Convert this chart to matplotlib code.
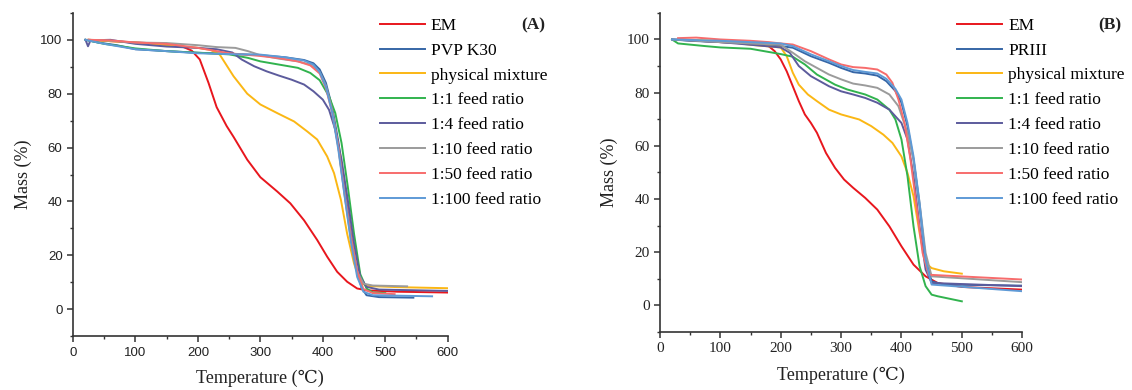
import matplotlib
matplotlib.use("Agg")
import matplotlib.pyplot as plt
from matplotlib.ticker import MultipleLocator
import numpy as np

# TGA curves, temperature (C) vs remaining mass (%)
labels_a = ["EM", "PVP K30", "physical mixture", "1:1 feed ratio", "1:4 feed ratio",
            "1:10 feed ratio", "1:50 feed ratio", "1:100 feed ratio"]
labels_b = ["EM", "PRIII", "physical mixture", "1:1 feed ratio", "1:4 feed ratio",
            "1:10 feed ratio", "1:50 feed ratio", "1:100 feed ratio"]
colors = ["#e8161d", "#3666a6", "#fbb714", "#31b34e", "#5c5b9c",
          "#9b9b9b", "#f76c6c", "#5e9ad6"]

# ---- panel A: PVP K30 ----
a_em_t = [25, 60, 100, 150, 175, 190, 203, 217, 230, 246, 257, 279, 300, 327, 348, 370, 391, 407, 423, 439, 455, 471, 520, 600]
a_em_m = [100, 99.5, 99, 98.5, 97.5, 96, 92.7, 84, 75, 68, 64, 55.5, 49, 43.7, 39.3, 33, 25.7, 19.5, 13.9, 10.2, 7.7, 7, 6.5, 6.2]

a_pvp_t = [20, 40, 70, 100, 150, 200, 250, 300, 340, 370, 385, 395, 405, 415, 425, 435, 445, 455, 462, 470, 490, 545]
a_pvp_m = [100, 99, 98, 96.5, 95.8, 95.2, 94.8, 94.3, 93.5, 92.5, 91.3, 89, 84, 75, 62, 45, 28, 14, 8, 5.2, 4.5, 4.3]

a_pm_t = [25, 60, 100, 150, 200, 220, 235, 257, 279, 300, 327, 354, 375, 391, 407, 418, 429, 439, 450, 461, 475, 520, 600]
a_pm_m = [100, 99.5, 99, 98, 97, 96.3, 94.5, 86.5, 80, 76, 72.8, 69.7, 66, 63, 56.7, 50.5, 40.6, 28, 17, 9.6, 8.6, 8.2, 7.8]

a_r1_t = [20, 50, 80, 100, 150, 200, 250, 280, 300, 330, 360, 380, 395, 410, 420, 430, 440, 450, 460, 470, 480, 500]
a_r1_m = [100, 98.5, 97.5, 96.8, 95.8, 95.2, 94.6, 93.3, 92, 90.8, 89.6, 87.7, 85, 79, 72.8, 61.7, 45.5, 28, 13, 7.7, 6.2, 6]

a_r4_t = [20, 24, 28, 60, 100, 150, 200, 230, 255, 270, 290, 310, 330, 350, 370, 385, 400, 410, 420, 430, 440, 450, 460, 470, 490, 600]
a_r4_m = [100, 97.6, 99.8, 100, 98.5, 97.5, 97, 96.5, 95.3, 92.7, 90.2, 88.3, 86.7, 85.2, 83.4, 80.9, 77.8, 74, 66.6, 55.5, 40.6, 24.4, 12, 8.3, 7.3, 6.8]

a_r10_t = [25, 50, 100, 150, 200, 230, 260, 280, 300, 330, 360, 380, 395, 405, 415, 425, 435, 445, 455, 465, 480, 535]
a_r10_m = [100, 99.8, 99, 98.8, 98, 97.3, 97, 95.8, 94.3, 93, 92, 90.8, 88, 83, 74, 60, 42, 26, 14, 9.5, 8.8, 8.5]

a_r50_t = [25, 60, 100, 150, 200, 250, 300, 330, 360, 380, 395, 405, 415, 425, 435, 445, 455, 465, 480, 515]
a_r50_m = [100, 99.8, 99, 98.5, 97, 95, 94, 93.2, 92, 90.5, 87.5, 82, 73, 60, 43, 27, 14, 7.5, 6, 5.6]

a_r100_t = [20, 50, 100, 150, 200, 250, 300, 340, 370, 385, 395, 405, 415, 425, 435, 445, 455, 465, 480, 575]
a_r100_m = [100, 98.5, 96.5, 95.8, 95, 94.7, 94.5, 93.5, 92.3, 90.8, 88, 82.5, 73, 59, 42, 25, 12, 6.5, 5.2, 4.8]

# ---- panel B: PRIII ----
b_em_t = [30, 100, 150, 180, 190, 200, 210, 220, 230, 240, 250, 260, 275, 290, 305, 320, 340, 360, 380, 400, 420, 440, 460, 500, 600]
b_em_m = [100, 99, 98.5, 97.5, 95.6, 92.5, 88, 82.4, 76.8, 71.8, 68.6, 64.9, 57.3, 51.7, 47.3, 44.2, 40.4, 36, 29.7, 22.2, 15.3, 10.9, 8.4, 6.9, 5.9]

b_pr_t = [20, 50, 100, 150, 200, 220, 250, 280, 300, 320, 340, 360, 375, 390, 400, 410, 420, 430, 440, 450, 470, 600]
b_pr_m = [100, 99.5, 99, 98.5, 97.5, 96.9, 93.7, 91.2, 89.3, 87.7, 87.2, 86.4, 84.3, 80.6, 76.2, 67.4, 54.8, 37.3, 17.2, 9, 7.8, 7.4]

b_pm_t = [30, 100, 150, 200, 210, 220, 230, 245, 260, 280, 300, 330, 350, 370, 385, 400, 410, 420, 430, 440, 450, 470, 500]
b_pm_m = [100, 99.5, 98, 97, 93.7, 87.5, 83, 79.3, 76.8, 73.6, 71.8, 69.9, 67.4, 64.2, 61.1, 56, 49.8, 41, 27.2, 15.9, 14, 12.8, 11.9]

b_r1_t = [20, 30, 75, 100, 150, 200, 220, 240, 260, 290, 310, 340, 360, 380, 390, 400, 410, 420, 430, 440, 450, 460, 500]
b_r1_m = [100, 98.5, 97.5, 97, 96.5, 94.5, 93.5, 90.6, 86.8, 83, 81.2, 79.3, 77.4, 73.6, 69.9, 62.4, 48.6, 29.7, 14.7, 7.2, 4, 3.4, 1.5]

b_r4_t = [20, 100, 150, 200, 215, 230, 250, 280, 300, 320, 340, 360, 380, 400, 410, 420, 430, 440, 450, 600]
b_r4_m = [100, 99, 98, 97, 95, 90, 86.2, 82.4, 80.5, 79.3, 78, 76.2, 73.6, 68.6, 62.4, 48.6, 29.7, 13.4, 8.4, 7.2]

b_r10_t = [20, 100, 200, 220, 240, 260, 280, 300, 320, 340, 360, 380, 395, 410, 420, 430, 440, 450, 600]
b_r10_m = [100, 99, 98, 95, 91.8, 89.3, 86.8, 85, 83.4, 82.7, 81.8, 79.3, 74.9, 64.9, 54.8, 38.5, 19.7, 10.9, 8.7]

b_r50_t = [30, 60, 100, 150, 180, 200, 220, 250, 280, 300, 320, 340, 360, 375, 385, 395, 405, 415, 425, 435, 445, 600]
b_r50_m = [100.5, 100.7, 100, 99.5, 99, 98.5, 98.1, 95.6, 92.5, 90.6, 89.6, 89.3, 88.7, 86.8, 83.7, 77.4, 68.6, 54.8, 37.3, 19.7, 11.5, 9.7]

b_r100_t = [20, 100, 200, 220, 250, 280, 300, 320, 340, 360, 375, 390, 400, 410, 420, 430, 440, 450, 600]
b_r100_m = [100, 99.5, 98.5, 97.5, 94.4, 91.8, 90, 88.5, 87.8, 87.2, 85.2, 81.4, 77.4, 68.6, 56, 38.5, 17.2, 7.8, 5.3]

series_a = [(a_em_t, a_em_m), (a_pvp_t, a_pvp_m), (a_pm_t, a_pm_m), (a_r1_t, a_r1_m),
            (a_r4_t, a_r4_m), (a_r10_t, a_r10_m), (a_r50_t, a_r50_m), (a_r100_t, a_r100_m)]
series_b = [(b_em_t, b_em_m), (b_pr_t, b_pr_m), (b_pm_t, b_pm_m), (b_r1_t, b_r1_m),
            (b_r4_t, b_r4_m), (b_r10_t, b_r10_m), (b_r50_t, b_r50_m), (b_r100_t, b_r100_m)]

serif = ["Liberation Serif", "DejaVu Serif"]

fig = plt.figure(figsize=(11.32, 3.9), dpi=100)
ax_a = fig.add_axes([0.0645, 0.138, 0.331, 0.829])
ax_b = fig.add_axes([0.583, 0.149, 0.320, 0.818])


def draw_panel(ax, series, labels, tick_family, tick_size, legend_x):
    for (t, m), lab, c in zip(series, labels, colors):
        ax.plot(t, m, color=c, lw=1.4, label=lab)
    ax.set_xlim(0, 600)
    ax.set_ylim(-10, 110)
    ax.xaxis.set_major_locator(MultipleLocator(100))
    ax.xaxis.set_minor_locator(MultipleLocator(50))
    ax.set_yticks([0, 20, 40, 60, 80, 100])
    ax.yaxis.set_minor_locator(MultipleLocator(10))
    ax.spines["top"].set_visible(False)
    ax.spines["right"].set_visible(False)
    for s in ("left", "bottom"):
        ax.spines[s].set_linewidth(1.2)
        ax.spines[s].set_color("#333333")
    ax.tick_params(which="major", direction="out", length=4, width=1.1, color="#333333",
                   labelsize=tick_size, labelcolor="#222222", labelfontfamily=tick_family)
    ax.tick_params(which="minor", direction="out", length=2.5, width=1.0, color="#333333")
    ax.set_xlabel("Temperature (\u2103)", family=serif, fontsize=13, color="#222222", labelpad=8)
    ax.set_ylabel("Mass (%)", family=serif, fontsize=13, color="#222222", labelpad=6)
    ax.legend(loc="upper left", bbox_to_anchor=(legend_x, 0.985),
              frameon=False, prop={"family": serif, "size": 12.5},
              handlelength=2.6, handletextpad=0.35, labelspacing=0.5, borderpad=0,
              borderaxespad=0)


draw_panel(ax_a, series_a, labels_a, "Liberation Sans", 9.5, 0.818)
draw_panel(ax_b, series_b, labels_b, "Liberation Serif", 11, 0.82)

fig.text(533 / 1132, 1 - 25 / 390, "(A)", family=serif, fontsize=12.5, fontweight="bold",
         ha="center", va="center", color="#222222")
fig.text(1110 / 1132, 1 - 25 / 390, "(B)", family=serif, fontsize=12.5, fontweight="bold",
         ha="center", va="center", color="#222222")

fig.savefig("out.png", dpi=100)
